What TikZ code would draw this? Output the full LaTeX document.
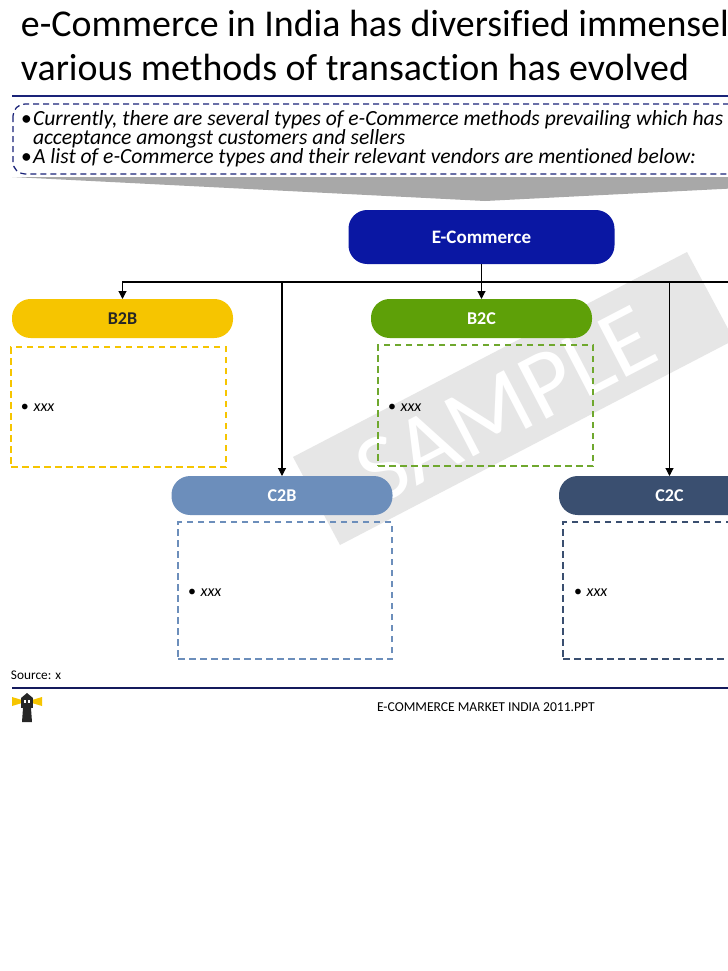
\documentclass[tikz,border=0pt]{standalone}
\usepackage{fontspec}
\setmainfont[Ligatures=NoCommon]{Carlito}
\usetikzlibrary{arrows.meta}
\definecolor{navy}{HTML}{1A2378}
\definecolor{rulenavy}{HTML}{141A5C}
\definecolor{ecomblue}{HTML}{0A17A3}
\definecolor{byellow}{HTML}{F6C500}
\definecolor{bgreen}{HTML}{5EA008}
\definecolor{dgreen}{HTML}{6FA82E}
\definecolor{cblue}{HTML}{6C8EBB}
\definecolor{cnavy}{HTML}{3A4F70}
\definecolor{wm}{HTML}{E6E6E6}
\definecolor{funnel}{HTML}{A8A8A8}
\newcommand{\fpx}[1]{\fontsize{\dimexpr#1pt*3/4\relax}{\dimexpr#1pt*3/4\relax}\selectfont}
\tikzset{
  x=0.75pt,y=-0.75pt,
  pill/.style={rounded corners=14pt,minimum width=221*0.75pt,minimum height=39*0.75pt,inner sep=0pt,outer sep=0pt,text=white,font=\fpx{18}\bfseries},
  dbox/.style={draw,line width=1.4*0.75pt,dash pattern=on 6.5*0.75pt off 4.5*0.75pt,anchor=north west,inner sep=0pt,outer sep=0pt},
  txt/.style={anchor=base west,inner sep=0pt,outer sep=0pt},
  arrowline/.style={line width=0.8pt,-{Triangle[length=6pt,width=6pt]}},
  plainline/.style={line width=0.8pt}
}
\begin{document}
\begin{tikzpicture}
\useasboundingbox (0,0) rectangle (728,971);
\clip (0,0) rectangle (728,971);
\fill[white] (0,0) rectangle (728,971);
% watermark
\fill[wm] (293,457) -- (687,252) -- (734,340) -- (340,545) -- cycle;
\node[text=white,rotate=27.5,inner sep=0pt,font=\fpx{97}] (wmtext) at (506,405) {SAMPLE};
% title
\node[txt,font=\fpx{37.9}] (t1) at (21,36) {e-Commerce in India has diversified immensely};
\node[txt,font=\fpx{37.9}] (t2) at (21,80) {various methods of transaction has evolved};
\draw[navy,line width=1.5pt] (12,96) -- (728,96);
% intro
\draw[navy,line width=0.95pt,dash pattern=on 6*0.75pt off 4*0.75pt,rounded corners=9pt] (13,104) rectangle (800,174);
\node[txt,font=\fpx{21.6}\itshape] (i1) at (21,125) {•\kern1pt Currently, there are several types of e-Commerce methods prevailing which has};
\node[txt,font=\fpx{21.6}\itshape] (i2) at (33,144) {acceptance amongst customers and sellers};
\node[txt,font=\fpx{21.6}\itshape] (i3) at (21,163) {•\kern1pt A list of e-Commerce types and their relevant vendors are mentioned below:};
\fill[funnel] (12,177) -- (958,177) -- (485,201) -- cycle;
% nodes
\node[fill=ecomblue,pill,minimum width=266*0.75pt,minimum height=54*0.75pt,font=\fpx{19}\bfseries] (ecom) at (481.5,237) {E-Commerce};
\node[fill=byellow,pill,text=black!85] (b2b) at (122.5,318.5) {B2B};
\node[fill=bgreen,pill] (b2c) at (481.5,318.5) {B2C};
\node[fill=cblue,pill] (c2b) at (282,495.5) {C2B};
\node[fill=cnavy,pill] (c2c) at (669.5,495.5) {C2C};
% boxes
\node[dbox,draw=byellow,minimum width=215*0.75pt,minimum height=120*0.75pt] (bx1) at (11,347) {};
\node[dbox,draw=dgreen,minimum width=215*0.75pt,minimum height=121*0.75pt] (bx2) at (378,345) {};
\node[dbox,draw=cblue,minimum width=214*0.75pt,minimum height=137*0.75pt] (bx3) at (178,522) {};
\node[dbox,draw=cnavy,minimum width=214*0.75pt,minimum height=137*0.75pt] (bx4) at (563,522) {};
\node[txt,font=\fpx{16}] (x1) at (21,411) {•\kern3.5pt\textit{xxx}};
\node[txt,font=\fpx{16}] (x2) at (388,411) {•\kern3.5pt\textit{xxx}};
\node[txt,font=\fpx{16}] (x3) at (188,596) {•\kern3.5pt\textit{xxx}};
\node[txt,font=\fpx{16}] (x4) at (574,596) {•\kern3.5pt\textit{xxx}};
% connectors
\coordinate (hub) at (481.5,282);
\coordinate (rightend) at (800,282);
\draw[plainline] (ecom.south) -- (hub);
\draw[plainline] (hub) -- (rightend);
\draw[arrowline] (hub) -- (b2c.north);
\draw[arrowline] (hub) -| (b2b.north);
\draw[arrowline] (hub) -| (c2b.north);
\draw[arrowline] (hub) -| (c2c.north);
% footer
\node[txt,font=\fpx{13.3}] (src) at (11,679) {Source: x};
\draw[rulenavy,line width=1.5pt] (12,688) -- (728,688);
\node[txt,font=\fpx{13.6}] (foot) at (377,711) {E-COMMERCE MARKET INDIA 2011.PPT};
% lighthouse logo
\fill[byellow] (12,697) -- (22,700) -- (22,703) -- (12,706) -- cycle;
\fill[byellow] (42,697) -- (32,700) -- (32,703) -- (42,706) -- cycle;
\fill[black!85] (27,693) -- (33,698) -- (21,698) -- cycle;
\fill[black!85] (21,698) rectangle (33,708);
\fill[white] (24,700) rectangle (26,703);
\fill[white] (28,700) rectangle (30,703);
\fill[black!85] (23,708) -- (31,708) -- (32,722) -- (22,722) -- cycle;
\end{tikzpicture}
\end{document}
